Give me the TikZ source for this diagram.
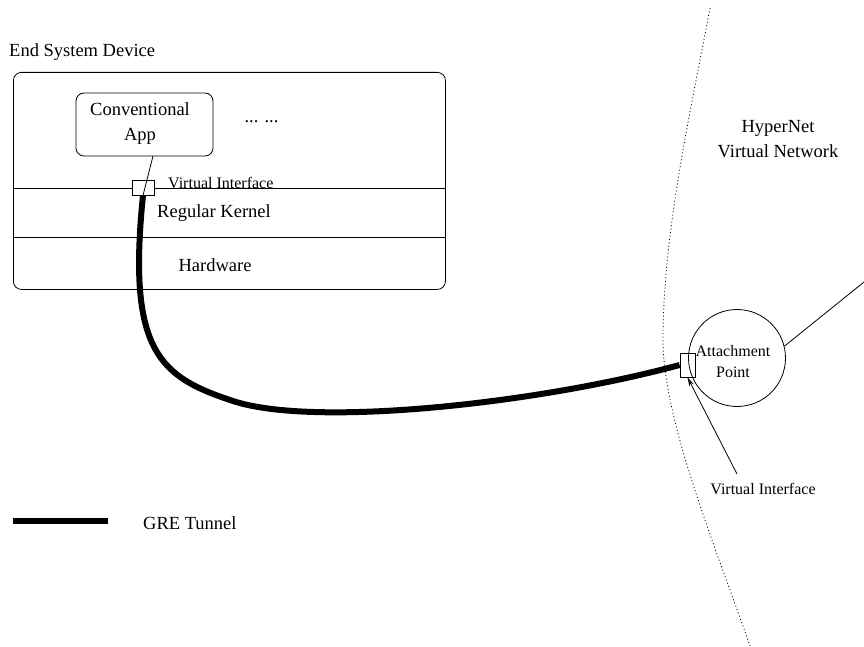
\documentclass[tikz,border=0pt]{standalone}
\usepackage{fontspec}
\setmainfont{Liberation Serif}
\usetikzlibrary{arrows.meta}
\tikzset{
  big/.style={font=\fontsize{18.5}{25}\selectfont, inner sep=0pt, align=center},
  small/.style={font=\fontsize{16}{21}\selectfont, inner sep=0pt, align=center},
  thin/.style={line width=0.8pt},
  tunnel/.style={line width=6pt},
  ifbox/.style={draw, thin, inner sep=0pt, fill=white},
}
\begin{document}
\begin{tikzpicture}[x=1pt,y=-1pt]
\useasboundingbox (0,0) rectangle (864,647);
% end system
\node[big, anchor=west] (title) at (9,52) {End System Device};
\node[draw, thin, rounded corners=8pt, minimum width=432pt, minimum height=217pt, anchor=north west, inner sep=0pt] (outer) at (13,72) {};
\coordinate (l1a) at (13,188); \coordinate (l1b) at (445,188);
\coordinate (l2a) at (13,237); \coordinate (l2b) at (445,237);
\draw[thin] (l1a) -- (l1b);
\draw[thin] (l2a) -- (l2b);
\node[draw, thin, rounded corners=8pt, minimum width=137pt, minimum height=63pt, inner sep=0pt] (app) at (144.5,124.5) {};
\node[big] (apptext) at (140,124) {Conventional\\App};
\node[big] (dots) at (261.5,122) {... ...};
\node[big] (kernel) at (214,213) {Regular Kernel};
\node[big] (hw) at (215,265) {Hardware};
\node[ifbox, minimum width=22pt, minimum height=15pt] (vi1) at (143,187.5) {};
\node[small, anchor=west] (vi1l) at (168,183) {Virtual Interface};
\coordinate (appout) at (153,156);
\draw[thin] (appout) -- (vi1.south);
% hypernet boundary
\draw[thin, dash pattern=on 1pt off 2.5pt] (710,8) .. controls (692,105) and (663,230) .. (663,340) .. controls (663,420) and (715.5,547) .. (750,646);
\node[big] (hn) at (778,139) {HyperNet\\Virtual Network};
\node[draw, thin, circle, minimum size=97pt, inner sep=0pt] (ap) at (737,358) {};
\node[small] (aptext) at (733,362) {Attachment\\Point};
\node[ifbox, fill=none, minimum width=15pt, minimum height=24pt] (vi2) at (687.5,365) {};
\coordinate (edge) at (864,282);
\draw[thin] (ap.14) -- (edge);
\node[small] (vi2l) at (763,489) {Virtual Interface};
\coordinate (arrs) at (737,474);
\draw[thin, -{Stealth[open, length=9pt, width=5pt]}] (arrs) -- (vi2.south);
% tunnel
\draw[tunnel] (vi1.south) .. controls (127,352) and (160,377) .. (233,401) .. controls (315,428) and (540,403) .. (vi2.west);
% legend
\coordinate (lg1) at (13,521); \coordinate (lg2) at (108,521);
\draw[tunnel] (lg1) -- (lg2);
\node[big, anchor=west] (lgt) at (143,523) {GRE Tunnel};
\end{tikzpicture}
\end{document}
